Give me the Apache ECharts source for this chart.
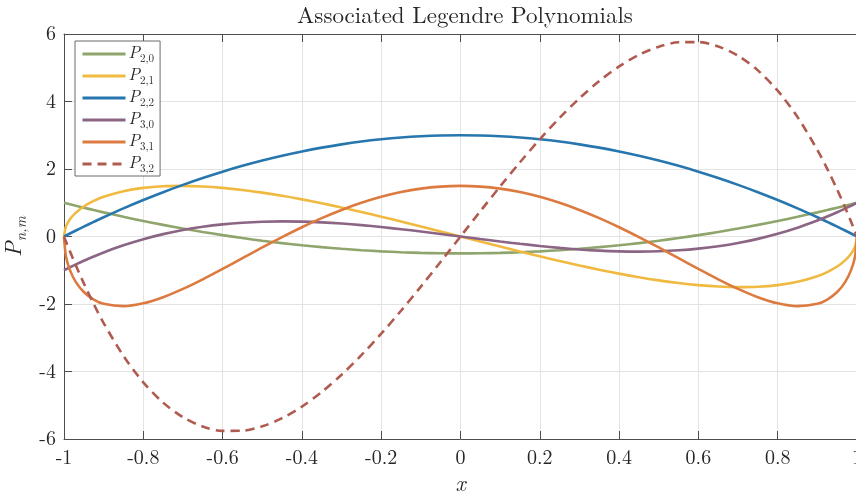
<!DOCTYPE html>
<html>
<head>
<meta charset="utf-8">
<script src="https://cdn.jsdelivr.net/npm/echarts@6/dist/echarts.min.js"></script>
<style>
  html, body { margin: 0; padding: 0; background: #fff; }
  #chart { width: 856px; height: 495px; }
</style>
</head>
<body>
<div id="chart"></div>
<script>
// Sample abscissae on [-1, 1], denser near the endpoints
const xs = [-1, -0.995, -0.985, -0.97, -0.95, -0.925, -0.9, -0.85, -0.8, -0.75, -0.7, -0.65, -0.6, -0.55, -0.5, -0.45, -0.4, -0.35, -0.3, -0.25, -0.2, -0.15, -0.1, -0.05,
  0, 0.05, 0.1, 0.15, 0.2, 0.25, 0.3, 0.35, 0.4, 0.45, 0.5, 0.55, 0.6, 0.65, 0.7, 0.75, 0.8, 0.85, 0.9, 0.925, 0.95, 0.97, 0.985, 0.995, 1];

const p20 = [1, 0.985, 0.955, 0.911, 0.854, 0.783, 0.715, 0.584, 0.46, 0.344, 0.235, 0.134, 0.04, -0.046, -0.125, -0.196, -0.26, -0.316, -0.365, -0.406, -0.44, -0.466, -0.485, -0.496,
  -0.5, -0.496, -0.485, -0.466, -0.44, -0.406, -0.365, -0.316, -0.26, -0.196, -0.125, -0.046, 0.04, 0.134, 0.235, 0.344, 0.46, 0.584, 0.715, 0.783, 0.854, 0.911, 0.955, 0.985, 1];

const p21 = [0, 0.298, 0.51, 0.707, 0.89, 1.054, 1.177, 1.343, 1.44, 1.488, 1.5, 1.482, 1.44, 1.378, 1.299, 1.206, 1.1, 0.984, 0.859, 0.726, 0.588, 0.445, 0.298, 0.15,
  0, -0.15, -0.298, -0.445, -0.588, -0.726, -0.859, -0.984, -1.1, -1.206, -1.299, -1.378, -1.44, -1.482, -1.5, -1.488, -1.44, -1.343, -1.177, -1.054, -0.89, -0.707, -0.51, -0.298, 0];

const p22 = [0, 0.03, 0.089, 0.177, 0.293, 0.433, 0.57, 0.833, 1.08, 1.313, 1.53, 1.733, 1.92, 2.093, 2.25, 2.393, 2.52, 2.633, 2.73, 2.813, 2.88, 2.933, 2.97, 2.993,
  3, 2.993, 2.97, 2.933, 2.88, 2.813, 2.73, 2.633, 2.52, 2.393, 2.25, 2.093, 1.92, 1.733, 1.53, 1.313, 1.08, 0.833, 0.57, 0.433, 0.293, 0.177, 0.089, 0.03, 0];

const p30 = [-1, -0.97, -0.912, -0.827, -0.718, -0.591, -0.473, -0.26, -0.08, 0.07, 0.193, 0.288, 0.36, 0.409, 0.438, 0.447, 0.44, 0.418, 0.383, 0.336, 0.28, 0.217, 0.148, 0.075,
  0, -0.075, -0.148, -0.217, -0.28, -0.336, -0.383, -0.418, -0.44, -0.447, -0.438, -0.409, -0.36, -0.288, -0.193, -0.07, 0.08, 0.26, 0.473, 0.591, 0.718, 0.827, 0.912, 0.97, 1];

const p31 = [0, -0.592, -0.997, -1.351, -1.645, -1.868, -1.994, -2.064, -1.98, -1.798, -1.553, -1.268, -0.96, -0.642, -0.325, -0.017, 0.275, 0.544, 0.787, 0.998, 1.176, 1.316, 1.418, 1.479,
  1.5, 1.479, 1.418, 1.316, 1.176, 0.998, 0.787, 0.544, 0.275, -0.017, -0.325, -0.642, -0.96, -1.268, -1.553, -1.798, -1.98, -2.064, -1.994, -1.868, -1.645, -1.351, -0.997, -0.592, 0];

const p32 = [0, -0.149, -0.44, -0.86, -1.389, -2.003, -2.565, -3.538, -4.32, -4.922, -5.355, -5.631, -5.76, -5.754, -5.625, -5.383, -5.04, -4.607, -4.095, -3.516, -2.88, -2.199, -1.485, -0.748,
  0, 0.748, 1.485, 2.199, 2.88, 3.516, 4.095, 4.607, 5.04, 5.383, 5.625, 5.754, 5.76, 5.631, 5.355, 4.922, 4.32, 3.538, 2.565, 2.003, 1.389, 0.86, 0.44, 0.149, 0];

const seriesNames = ['P2,0', 'P2,1', 'P2,2', 'P3,0', 'P3,1', 'P3,2'];
const seriesValues = [p20, p21, p22, p30, p31, p32];
const seriesColors = ['#8fa56b', '#f0b940', '#2777ae', '#8b6584', '#dd7a40', '#b05b4f'];

const SERIF = '"Latin Modern Roman", "CMU Serif", "Liberation Serif", "DejaVu Serif", serif';
const INK = '#262626';
const AXIS = '#4d4d4d';

const series = seriesNames.map((name, i) => ({
  name,
  type: 'line',
  data: xs.map((x, k) => [x, seriesValues[i][k]]),
  showSymbol: false,
  symbol: 'none',
  smooth: 0.3,
  lineStyle: {
    color: seriesColors[i],
    width: 2.6,
    type: i === 5 ? [9, 6] : 'solid'
  },
  itemStyle: { color: seriesColors[i] }
}));

const chart = echarts.init(document.getElementById('chart'), null, { renderer: 'canvas' });

chart.setOption({
  animation: false,
  backgroundColor: '#fff',
  title: {
    text: 'Associated Legendre Polynomials',
    left: 460,
    textAlign: 'center',
    top: -1,
    textStyle: { fontFamily: SERIF, fontWeight: 'normal', fontSize: 23, color: INK }
  },
  legend: {
    orient: 'vertical',
    left: 75,
    top: 41,
    padding: [3, 6, 2, 6],
    itemWidth: 43,
    itemHeight: 12,
    itemGap: 2,
    backgroundColor: '#fff',
    borderColor: '#6b6b6b',
    borderWidth: 1,
    borderRadius: 0,
    data: seriesNames,
    formatter: name => '{p|P}{s|' + name.slice(1) + '}',
    lineStyle: { width: 3 },
    itemStyle: { opacity: 0, borderWidth: 0 },
    textStyle: {
      color: INK,
      padding: [0, 0, 0, -2],
      rich: {
        p: { fontFamily: SERIF, fontStyle: 'italic', fontSize: 17, lineHeight: 20, verticalAlign: 'top', color: INK },
        s: { fontFamily: SERIF, fontSize: 11, lineHeight: 10, verticalAlign: 'bottom', color: INK }
      }
    }
  },
  grid: { left: 64, top: 34, width: 793, height: 405, containLabel: false, outerBoundsMode: 'none' },
  xAxis: [{
    type: 'value',
    min: -1,
    max: 1,
    interval: 0.2,
    name: 'x',
    nameLocation: 'middle',
    nameGap: 32,
    nameTextStyle: { fontFamily: SERIF, fontStyle: 'italic', fontSize: 22, color: INK },
    axisLine: { show: true, onZero: false, lineStyle: { color: AXIS, width: 1 } },
    axisTick: { show: true, inside: true, length: 8, lineStyle: { color: AXIS } },
    axisLabel: { fontFamily: SERIF, fontSize: 20, color: INK, margin: 9 },
    splitLine: { show: true, lineStyle: { color: '#e3e3e3', width: 1 } }
  }, {
    type: 'value',
    position: 'top',
    min: -1,
    max: 1,
    interval: 0.2,
    axisLine: { show: true, onZero: false, lineStyle: { color: AXIS, width: 1 } },
    axisTick: { show: true, inside: true, length: 8, lineStyle: { color: AXIS } },
    axisLabel: { show: false },
    splitLine: { show: false }
  }],
  yAxis: {
    type: 'value',
    min: -6,
    max: 6,
    interval: 2,
    name: '{p|P}{s|n,m}',
    nameLocation: 'middle',
    nameRotate: 90,
    nameGap: 33,
    nameTextStyle: {
      color: INK,
      rich: {
        p: { fontFamily: SERIF, fontStyle: 'italic', fontSize: 23, lineHeight: 26, verticalAlign: 'top', color: INK },
        s: { fontFamily: SERIF, fontStyle: 'italic', fontSize: 15, lineHeight: 13, verticalAlign: 'bottom', color: INK }
      }
    },
    axisLine: { show: true, onZero: false, lineStyle: { color: AXIS, width: 1 } },
    axisTick: { show: true, inside: true, length: 8, lineStyle: { color: AXIS } },
    axisLabel: { fontFamily: SERIF, fontSize: 20, color: INK, margin: 8 },
    splitLine: { show: true, lineStyle: { color: '#e3e3e3', width: 1 } }
  },
  series
});
</script>
</body>
</html>
